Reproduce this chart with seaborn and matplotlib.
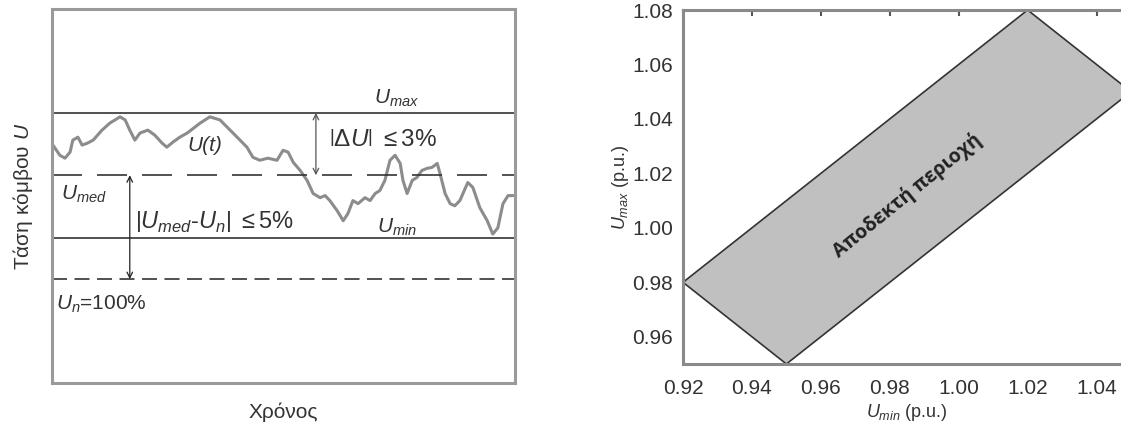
import matplotlib
matplotlib.use('Agg')
import matplotlib.pyplot as plt
import seaborn as sns
import numpy as np
import pandas as pd

# voltage trace U(t), time in % of window, voltage in % of Un
t_vals = [0.2, 1.7, 2.8, 3.9, 4.5, 5.6, 6.5, 7.6, 8.9, 10.8, 12.5, 13.6, 14.7, 15.8,
          16.8, 17.9, 19.0, 20.7, 22.2, 23.8, 24.8, 26.1, 27.6, 29.2, 32.0, 34.1,
          36.3, 37.8, 39.1, 40.6, 42.1, 43.4, 44.9, 46.6, 48.6, 49.9, 51.0, 52.1,
          53.6, 55.1, 56.4, 57.9, 59.0, 60.0, 61.6, 62.9, 63.9, 65.0, 66.1, 67.6,
          68.7, 69.8, 70.8, 71.9, 73.0, 74.1, 75.2, 75.8, 76.7, 77.8, 78.8, 79.9,
          81.0, 82.1, 83.2, 83.8, 84.9, 86.0, 87.0, 88.1, 89.8, 90.9, 92.4, 94.0,
          95.2, 96.3, 97.4, 98.5, 99.6]
u_vals = [106.45, 105.96, 105.82, 106.11, 106.69, 106.83, 106.45, 106.54, 106.69,
          107.17, 107.51, 107.66, 107.81, 107.66, 107.17, 106.69, 107.03, 107.17,
          106.93, 106.54, 106.35, 106.59, 106.83, 107.03, 107.51, 107.81, 107.66,
          107.32, 107.03, 106.69, 106.35, 105.86, 105.72, 105.82, 105.72, 106.20,
          106.11, 105.62, 105.23, 104.75, 104.12, 103.92, 104.02, 103.78, 103.29,
          102.81, 103.15, 103.78, 103.63, 103.92, 103.78, 104.12, 104.26, 104.75,
          105.72, 105.96, 105.57, 104.75, 104.12, 104.75, 104.89, 105.23, 105.33,
          105.38, 105.57, 105.09, 104.12, 103.63, 103.53, 103.78, 104.65, 104.41,
          103.44, 102.81, 102.17, 102.47, 103.63, 104.02, 104.02]

u_n, u_med, u_max, u_min = 100, 105, 108, 102

# acceptable region (Umin, Umax) in p.u.
region_umin = [0.92, 0.95, 1.05, 1.02]
region_umax = [0.98, 0.95, 1.05, 1.08]
x_ticks = [0.92, 0.94, 0.96, 0.98, 1.00, 1.02, 1.04]
y_ticks = [0.96, 0.98, 1.00, 1.02, 1.04, 1.06, 1.08]

sns.set_style('white')
plt.rcParams['font.family'] = ['Liberation Sans', 'DejaVu Sans']
plt.rcParams['mathtext.fontset'] = 'custom'
plt.rcParams['mathtext.rm'] = 'Liberation Sans'
plt.rcParams['mathtext.it'] = 'Liberation Sans:italic'
plt.rcParams['mathtext.bf'] = 'Liberation Sans:bold'

fig = plt.figure(figsize=(11.21, 4.29), dpi=100)

# ---- left panel: voltage over time
ax1 = fig.add_axes([52 / 1121, 1 - 383 / 429, 463 / 1121, 374 / 429])
df = pd.DataFrame({'t': t_vals, 'u': u_vals})
sns.lineplot(data=df, x='t', y='u', ax=ax1, color='#8c8c8c', lw=2.2)
ax1.axhline(u_max, color='#333333', lw=1.2)
ax1.axhline(u_min, color='#333333', lw=1.2)
ax1.axhline(u_med, color='#333333', lw=1.2, ls=(0, (18, 9)))
ax1.axhline(u_n, color='#333333', lw=1.2, ls=(0, (9, 4.5)))
ax1.set_xlim(0, 100)
ax1.set_ylim(95, 113)
ax1.set_xticks([])
ax1.set_yticks([])
for sp in ax1.spines.values():
    sp.set_color('#9a9a9a')
    sp.set_linewidth(2.2)
ax1.set_xlabel('Χρόνος', fontsize=15, color='#333333', labelpad=14)
ax1.set_ylabel('Τάση κόμβου $U$', fontsize=15, color='#333333', labelpad=12)

ax1.annotate('', xy=(57.0, u_max), xytext=(57.0, u_med),
             arrowprops=dict(arrowstyle='<->', color='#555555', lw=0.9,
                             shrinkA=0, shrinkB=0))
ax1.annotate('', xy=(16.8, u_med), xytext=(16.8, u_n),
             arrowprops=dict(arrowstyle='<->', color='#222222', lw=0.9,
                             shrinkA=0, shrinkB=0))

tc = '#333333'
ax1.text(74.5, 108.2, '$U_{max}$', fontsize=15, ha='center', va='bottom', color=tc)
ax1.text(33, 106.45, 'U(t)', fontsize=15, style='italic', ha='center',
         va='center', color=tc)
ax1.text(59.8, 106.7, r'$\left|\Delta U\right|\ \leq 3\%$', fontsize=17.5,
         ha='left', va='center', color=tc)
ax1.text(1.9, 104.1, '$U_{med}$', fontsize=15, ha='left', va='center', color=tc)
ax1.text(17.9, 102.75, r'$\left|U_{med}\text{-}U_n\right|\ \leq 5\%$', fontsize=17,
         ha='left', va='center', color=tc)
ax1.text(70.2, 102.5, '$U_{min}$', fontsize=15, ha='left', va='center', color=tc)
ax1.text(0.9, 98.8, '$U_n$=100%', fontsize=15, ha='left', va='center', color=tc)

# ---- right panel: acceptable Umin/Umax region
ax2 = fig.add_axes([683 / 1121, 1 - 364 / 429, 448 / 1121, 354 / 429])
ax2.fill(region_umin, region_umax, facecolor='#c0c0c0', edgecolor='#333333',
         lw=1.2, zorder=2)
ax2.set_xlim(0.92, 1.05)
ax2.set_ylim(0.95, 1.08)
ax2.set_xticks(x_ticks)
ax2.set_yticks(y_ticks)
ax2.set_xticklabels([f'{v:.2f}' for v in x_ticks])
ax2.set_yticklabels([f'{v:.2f}' for v in y_ticks])
ax2.tick_params(direction='in', top=True, right=True, length=4, width=1.5,
                color='#555555', labelsize=15, labelcolor='#333333', pad=7)
ax2.tick_params(axis='x', pad=11)
for sp in ax2.spines.values():
    sp.set_color('#8a8a8a')
    sp.set_linewidth(2.2)
    sp.set_zorder(3)
ax2.set_xlabel('$U_{min}$ (p.u.)', fontsize=13, color='#333333', labelpad=3)
ax2.set_ylabel('$U_{max}$ (p.u.)', fontsize=13, color='#333333', labelpad=1)
ax2.text(0.985, 1.012, 'Αποδεκτή περιοχή', rotation=39, fontsize=14,
         fontweight='bold', ha='center', va='center', color='#222222',
         family=['Open Sans', 'DejaVu Sans'], zorder=4)

fig.savefig('out.png', dpi=100)
